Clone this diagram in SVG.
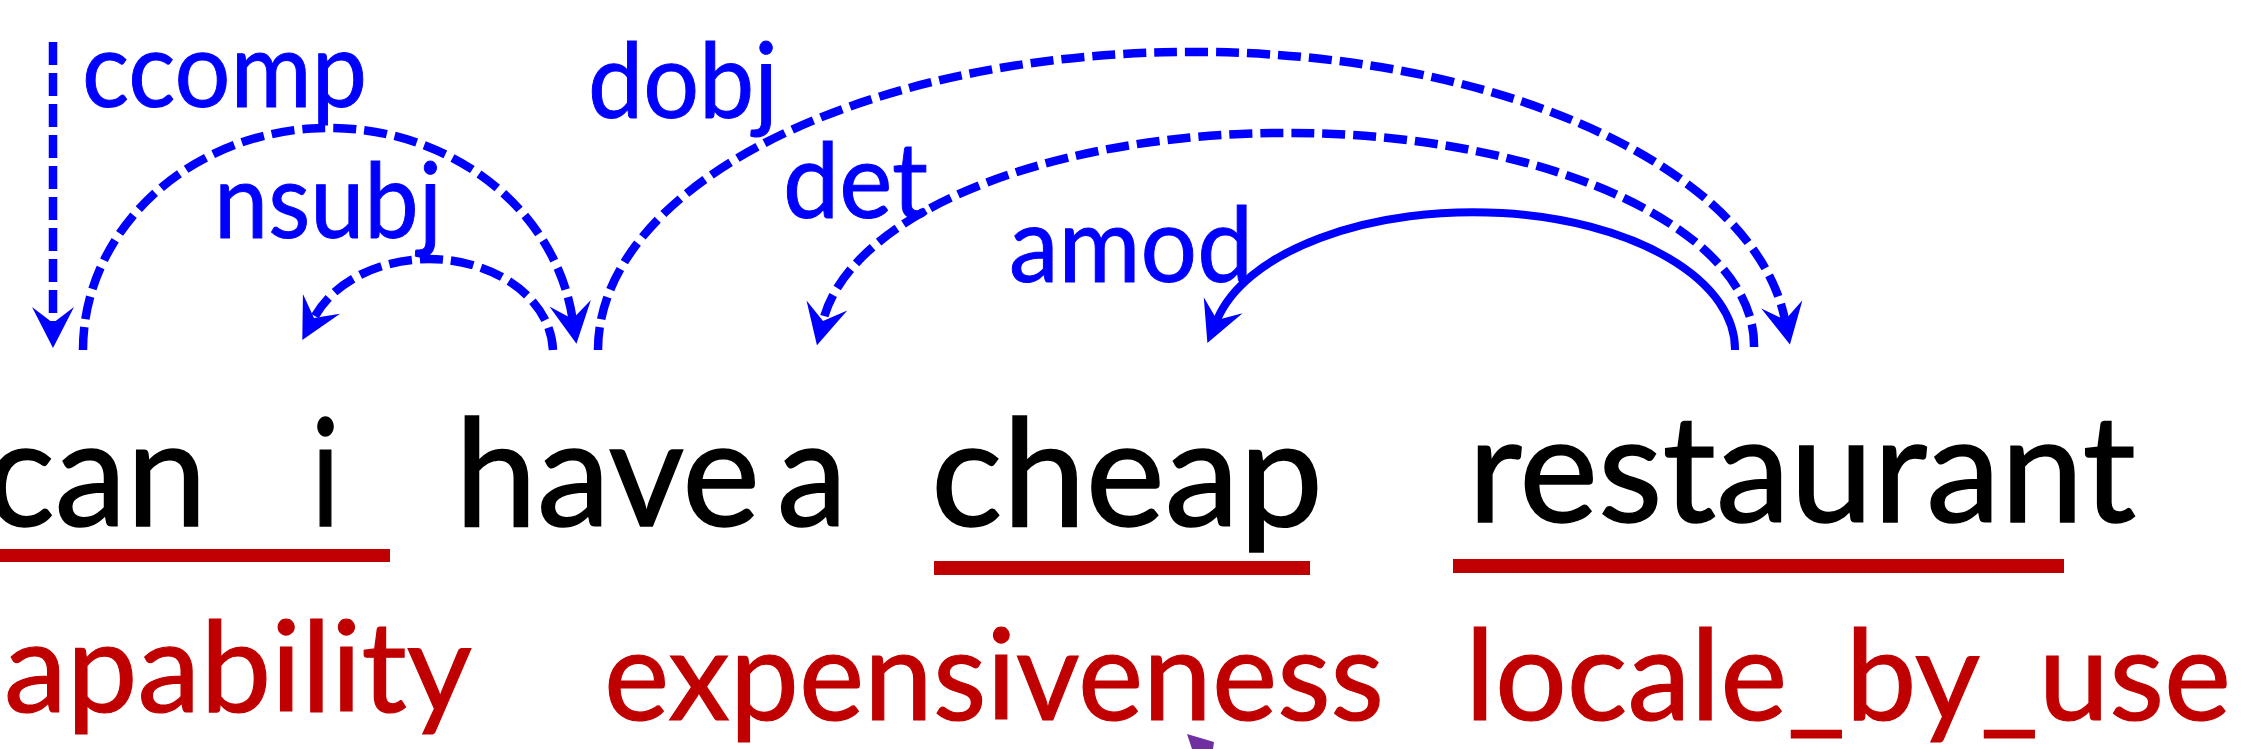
<svg xmlns="http://www.w3.org/2000/svg" width="2242" height="749" viewBox="0 0 2242 749">
<style>
.word{font-family:Lato,"Open Sans","Liberation Sans",sans-serif;font-size:150px;fill:#000;stroke:#000;stroke-width:1.5}
.frame{font-family:Lato,"Open Sans","Liberation Sans",sans-serif;font-size:126px;fill:#C00000;stroke:#C00000;stroke-width:1.2}
.rel{font-family:Lato,"Open Sans","Liberation Sans",sans-serif;font-size:104px;fill:#0000FF;stroke:#0000FF;stroke-width:1}
.ul{fill:#C00000}
.dash{fill:none;stroke:#0000FF;stroke-width:8.5;stroke-dasharray:23 8}
.solid{fill:none;stroke:#0000FF;stroke-width:8}
</style>
<defs>
<marker id="ah" markerUnits="userSpaceOnUse" markerWidth="52" markerHeight="52" viewBox="-5 -26 52 52" refX="16" refY="0" orient="auto" overflow="visible">
<path d="M0,-21 L41,0 L0,21 L16,0 Z" fill="#0000FF"/>
</marker>
</defs>
<rect width="2242" height="749" fill="#fff"/>

<g id="connectors">
<path class="dash" d="M53,42 L53,323" marker-end="url(#ah)"/>
<path class="dash" d="M83,350 A246,222 0 0 1 572.6,319" marker-end="url(#ah)"/>
<path class="dash" d="M553,350 A124,94 0 0 0 314,318" marker-end="url(#ah)"/>
<path class="dash" d="M598,350 A595,298 0 0 1 1785,320" marker-end="url(#ah)"/>
<path class="dash" d="M1754,347 A467,212 0 0 0 823,321" marker-end="url(#ah)"/>
<path class="solid" d="M1735,350 A262,137 0 0 0 1217,320" marker-end="url(#ah)"/>
<path d="M1187,734 L1214,742 L1213,749 L1192,749 Z" fill="#7030A0"/>
<text class="rel" x="82" y="107" textLength="285" lengthAdjust="spacingAndGlyphs">ccomp</text>
<text class="rel" x="214" y="238" textLength="228" lengthAdjust="spacingAndGlyphs">nsubj</text>
<text class="rel" x="588" y="118" textLength="190" lengthAdjust="spacingAndGlyphs">dobj</text>
<text class="rel" x="783" y="218" textLength="145" lengthAdjust="spacingAndGlyphs">det</text>
<text class="rel" x="1009" y="282" textLength="244" lengthAdjust="spacingAndGlyphs">amod</text>
</g>

<g id="node-can"><text class="word" x="-14" y="526" textLength="221" lengthAdjust="spacingAndGlyphs">can</text></g>
<g id="node-i"><text class="word" x="311" y="526" textLength="29" lengthAdjust="spacingAndGlyphs">i</text></g>
<g id="node-have"><text class="word" x="455" y="526" textLength="305" lengthAdjust="spacingAndGlyphs">have</text></g>
<g id="node-a"><text class="word" x="777" y="526" textLength="70" lengthAdjust="spacingAndGlyphs">a</text></g>
<g id="node-cheap"><text class="word" x="931" y="526" textLength="392" lengthAdjust="spacingAndGlyphs">cheap</text></g>
<g id="node-restaurant"><text class="word" x="1468" y="522" textLength="668" lengthAdjust="spacingAndGlyphs">restaurant</text></g>

<g id="frame-capability">
<rect class="ul" x="0" y="549" width="390" height="13"/>
<text class="frame" x="4" y="712" textLength="468" lengthAdjust="spacingAndGlyphs">apability</text>
</g>
<g id="frame-expensiveness">
<rect class="ul" x="934" y="561" width="376" height="14"/>
<text class="frame" x="604" y="720" textLength="780" lengthAdjust="spacingAndGlyphs">expensiveness</text>
</g>
<g id="frame-locale">
<rect class="ul" x="1453" y="559" width="611" height="14"/>
<text class="frame" x="1465" y="720" textLength="766" lengthAdjust="spacingAndGlyphs">locale_by_use</text>
</g>
</svg>
